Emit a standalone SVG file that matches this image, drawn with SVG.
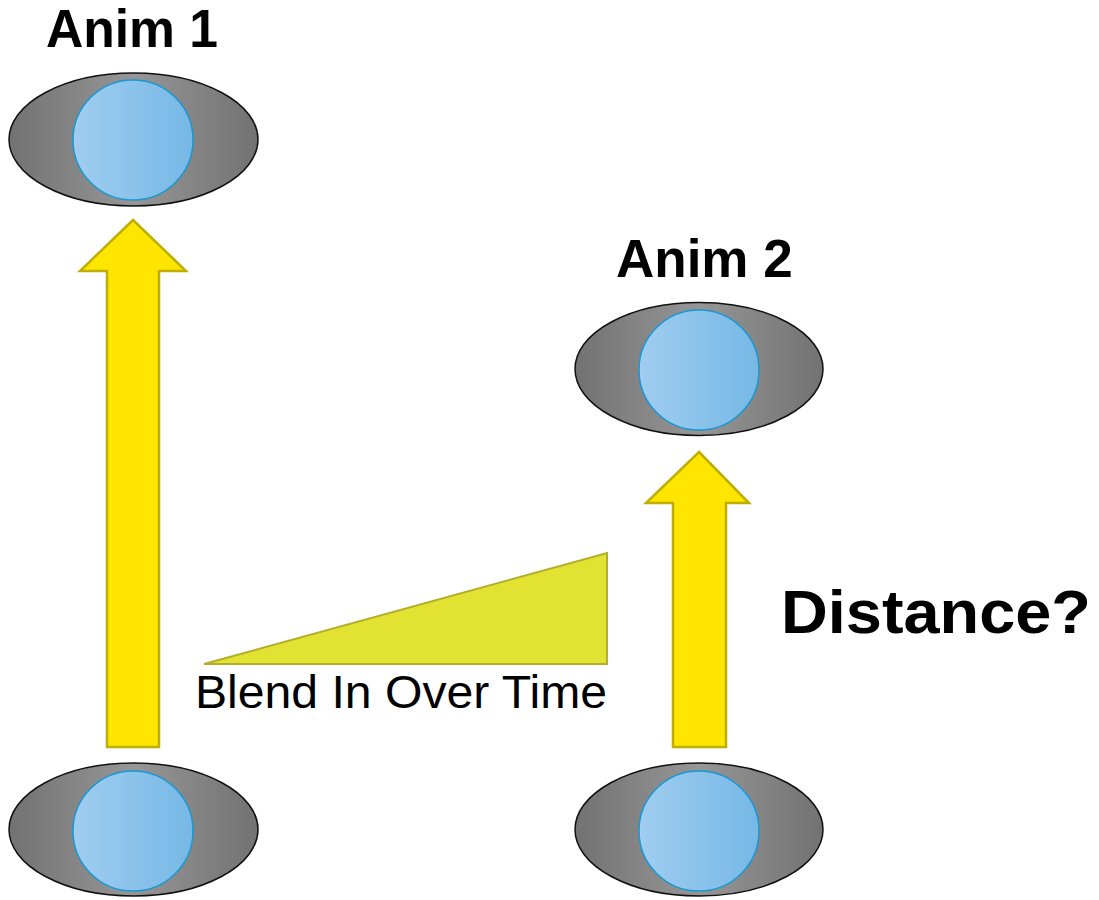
<svg xmlns="http://www.w3.org/2000/svg" width="1099" height="900" viewBox="0 0 1099 900">
<defs>
<linearGradient id="gEll" x1="0" y1="0" x2="1" y2="0">
<stop offset="0" stop-color="#727272"/>
<stop offset="0.5" stop-color="#969696"/>
<stop offset="1" stop-color="#727272"/>
</linearGradient>
<linearGradient id="gCirc" x1="0" y1="0" x2="1" y2="0">
<stop offset="0" stop-color="#a0cdf0"/>
<stop offset="1" stop-color="#76b8e6"/>
</linearGradient>
<style>
.ell{fill:url(#gEll);stroke:#111;stroke-width:1.5}
.circ{fill:url(#gCirc);stroke:#1a98d2;stroke-width:1.5}
.arrow{fill:#ffe600;stroke:#bfae00;stroke-width:2.5}
.ramp{fill:#e1e231;stroke:#b3ae2a;stroke-width:2}
.lbl{font-family:"Liberation Sans",Arial,sans-serif;fill:#000}
.b{font-weight:bold}
</style>
</defs>
<g id="connectors">
<polygon class="arrow" points="133,220 186,271 159,271 159,747 107,747 107,271 80,271"/>
<polygon class="arrow" points="699,452 749,503 726,503 726,747 673,747 673,503 646,503"/>
</g>
<g id="node-anim1">
<ellipse class="ell" cx="133.5" cy="139.5" rx="124.5" ry="66.5"/>
<circle class="circ" cx="133" cy="140" r="60"/>
<text class="lbl b" x="46" y="46.5" font-size="53" textLength="172" lengthAdjust="spacingAndGlyphs">Anim 1</text>
</g>
<g id="node-anim2">
<ellipse class="ell" cx="699" cy="369" rx="124" ry="66.5"/>
<circle class="circ" cx="699" cy="370" r="60"/>
<text class="lbl b" x="616" y="276.5" font-size="53">Anim 2</text>
</g>
<g id="node-start1">
<ellipse class="ell" cx="133.5" cy="829.5" rx="124.5" ry="66.5"/>
<circle class="circ" cx="133" cy="831" r="60"/>
</g>
<g id="node-start2">
<ellipse class="ell" cx="699" cy="829.5" rx="124" ry="66.5"/>
<circle class="circ" cx="699" cy="831" r="60"/>
</g>
<g id="blend">
<polygon class="ramp" points="204,664 607,553 607,664"/>
<text class="lbl" x="195" y="708" font-size="47" textLength="412" lengthAdjust="spacingAndGlyphs">Blend In Over Time</text>
</g>
<g id="distance">
<text class="lbl b" x="781" y="633" font-size="62" textLength="310" lengthAdjust="spacingAndGlyphs">Distance?</text>
</g>
</svg>
